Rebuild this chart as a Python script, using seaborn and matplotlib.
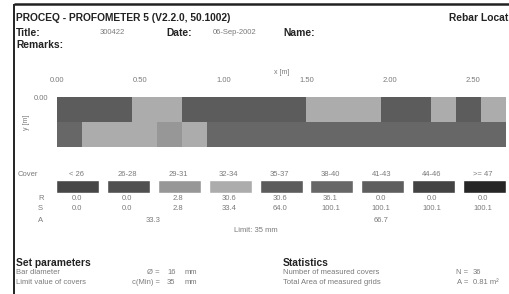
import numpy as np
import matplotlib
matplotlib.use("Agg")
import matplotlib.pyplot as plt
from matplotlib.colors import ListedColormap
import seaborn as sns

sns.set_style("white")
plt.rcParams["font.family"] = ["Liberation Sans", "DejaVu Sans"]

# cover classes (mm) and the grey each one prints as
cover_classes = ["< 26", "26-28", "29-31", "32-34", "35-37", "38-40", "41-43", "44-46", ">= 47"]
class_lo = [0, 26, 29, 32, 35, 38, 41, 44, 47]
class_grey = ["#474747", "#505050", "#979797", "#acacac", "#5c5c5c",
              "#676767", "#5e5e5e", "#434343", "#262626"]

# measured cover per grid cell: 18 cells of 0.15 m along x, 2 rows along y
cover_row1 = [36, 36, 36, 33, 33, 36, 36, 36, 36, 36, 33, 33, 33, 36, 36, 33, 36, 33]
cover_row2 = [39, 33, 33, 33, 30, 33, 39, 39, 39, 39, 39, 39, 39, 39, 39, 39, 39, 39]
cell = 0.15
x_ticks = [0.0, 0.5, 1.0, 1.5, 2.0, 2.5]

# statistics table
rel_pct = ["0.0", "0.0", "2.8", "30.6", "30.6", "36.1", "0.0", "0.0", "0.0"]
sum_pct = ["0.0", "0.0", "2.8", "33.4", "64.0", "100.1", "100.1", "100.1", "100.1"]
area_pct = ["33.3", "66.7"]   # below / above limit
limit = 35
bar_diam = 16
n_covers = 36
total_area = 0.81

grid = np.array([cover_row1, cover_row2])
grid_idx = np.searchsorted(class_lo, grid, side="right") - 1

fig = plt.figure(figsize=(5.1, 2.94), dpi=100)

# page layer in pixel coordinates
page = fig.add_axes([0, 0, 1, 1])
page.set_xlim(0, 510)
page.set_ylim(294, 0)
page.axis("off")

ink = "#222222"
grey = "#7a7a7a"
bold = dict(fontsize=7.4, fontweight="bold", color=ink, va="center")
small = dict(fontsize=5.5, color=grey, va="center")

page.plot([14, 510], [4, 4], color=ink, lw=1.8, solid_capstyle="butt")
page.plot([14, 14], [4, 294], color=ink, lw=1.4, solid_capstyle="butt")

page.text(16, 18, "PROCEQ - PROFOMETER 5 (V2.2.0, 50.1002)", **bold)
page.text(508, 18, "Rebar Locat", ha="right", **bold)
page.text(16, 33, "Title:", **bold)
page.text(100, 33, "300422", **small)
page.text(166, 33, "Date:", **bold)
page.text(213, 33, "06-Sep-2002", **small)
page.text(283, 33, "Name:", **bold)
page.text(16, 45, "Remarks:", **bold)

page.text(282, 72, "x [m]", ha="center", **dict(small, fontsize=5))
page.text(27, 122, "y [m]", ha="center", rotation=90, **dict(small, fontsize=5))

# legend swatches and table
centers = 78 + 50.8 * np.arange(len(cover_classes))
page.text(18, 175, "Cover", **small)
page.bar(centers, 13, bottom=180, width=43, color=class_grey)
page.bar(centers, 0.8, bottom=178, width=43, color="#c8c8c8")
for i, lab in enumerate(cover_classes):
    page.text(centers[i] - 1.5, 174, lab, ha="center", **small)
    page.text(centers[i] - 1.5, 199, rel_pct[i], ha="center", **small)
    page.text(centers[i] - 1.5, 209, sum_pct[i], ha="center", **small)
page.text(38, 199, "R", **small)
page.text(38, 209, "S", **small)
page.text(38, 220, "A", **small)
below = [i for i, lo in enumerate(class_lo) if lo < limit]
above = [i for i, lo in enumerate(class_lo) if lo >= limit]
page.text(np.mean(centers[below]) - 1.5, 220, area_pct[0], ha="center", **small)
page.text(np.mean(centers[above]) - 1.5, 220, area_pct[1], ha="center", **small)
page.text(256, 231, f"Limit: {limit} mm", ha="center", **small)

# footer
page.text(16, 263, "Set parameters", **bold)
page.text(16, 273, "Bar diameter", **small)
page.text(160, 273, "Ø =", ha="right", **small)
page.text(167, 273, str(bar_diam), **small)
page.text(185, 273, "mm", **small)
page.text(16, 283, "Limit value of covers", **small)
page.text(160, 283, "c(Min) =", ha="right", **small)
page.text(167, 283, str(limit), **small)
page.text(185, 283, "mm", **small)

page.text(283, 263, "Statistics", **bold)
page.text(283, 273, "Number of measured covers", **small)
page.text(468, 273, "N =", ha="right", **small)
page.text(473, 273, str(n_covers), **small)
page.text(283, 283, "Total Area of measured grids", **small)
page.text(468, 283, "A =", ha="right", **small)
page.text(473, 283, f"{total_area:.2f} m²", **small)

# cover map
ax = fig.add_axes([57 / 510, 1 - 147 / 294, 449 / 510, 50 / 294])
sns.heatmap(grid_idx, ax=ax, cmap=ListedColormap(class_grey), vmin=-0.5, vmax=8.5,
            cbar=False, xticklabels=False, yticklabels=False)
ax.set_xticks([t / cell for t in x_ticks])
ax.set_xticklabels([f"{t:.2f}" for t in x_ticks])
ax.xaxis.tick_top()
ax.set_yticks([0])
ax.set_yticklabels(["0.00"])
ax.tick_params(axis="x", length=0, pad=9, labelsize=5.5, labelcolor=grey)
ax.tick_params(axis="y", length=0, pad=6, labelsize=5.5, labelcolor=grey)
for s in ax.spines.values():
    s.set_visible(False)

fig.savefig("out.png", dpi=100)
